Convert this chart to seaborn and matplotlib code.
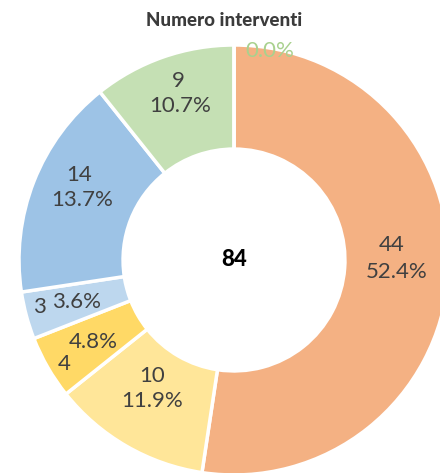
import numpy as np
import matplotlib
matplotlib.use("Agg")
import matplotlib.pyplot as plt
import seaborn as sns

# data (clockwise from 12 o'clock)
counts = [44, 10, 4, 3, 14, 9, 0]
count_labels = ["44", "10", "4", "3", "14", "9", ""]
pct_labels = ["52.4%", "11.9%", "4.8%", "3.6%", "13.7%", "10.7%", "0.0%"]
colors = ["#F4B183", "#FFE699", "#FFD966", "#BDD7EE", "#9DC3E6", "#C5E0B4", "#C5E0B4"]
total_label = "84"
title = "Numero interventi"

sns.set_style("white")
plt.rcParams["font.family"] = ["Lato", "DejaVu Sans"]

W, H = 440, 473
cx, cy, R = 234, 260, 215  # pixel geometry of the ring
fig = plt.figure(figsize=(W / 100, H / 100), dpi=100)
ax = fig.add_axes([0, 0, 1, 1])

ax.pie(counts, colors=colors, startangle=90, counterclock=False, radius=1,
       wedgeprops=dict(width=0.484, edgecolor="white", linewidth=2.5))
ax.set_xlim(-cx / R, (W - cx) / R)
ax.set_ylim(-(H - cy) / R, cy / R)
ax.set_aspect("auto")
ax.axis("off")

px = 1 / R
text_col = "#404040"
r_lab = 163 / R
cum = np.cumsum([0] + counts)
tot = sum(counts)
# offsets (px) of the count line relative to the percentage label
count_off = [(-5, 27), (0, 25), (-29, -22), (-37, -5), (-3, 25), (-2, 25), (0, 0)]
for i, c in enumerate(counts):
    mid = (cum[i] + cum[i + 1]) / 2 / tot * 2 * np.pi
    x = r_lab * np.sin(mid)
    y = r_lab * np.cos(mid)
    col = text_col
    if c == 0:
        x, y = 36 * px, (cy - 51) * px
        col = "#A9D18E"
    ax.text(x, y, pct_labels[i], ha="center", va="center", fontsize=16, color=col)
    if count_labels[i]:
        dx, dy = count_off[i]
        ax.text(x + dx * px, y + dy * px, count_labels[i], ha="center", va="center",
                fontsize=16, color=text_col)

ax.text(0, 0, total_label, ha="center", va="center", fontsize=16,
        fontweight="black", color="black")
fig.text(224 / W, 1 - 20 / H, title, ha="center", va="center", fontsize=13.5,
         fontweight="black", color="#3B3B3B")

fig.savefig("out.png", dpi=100)
